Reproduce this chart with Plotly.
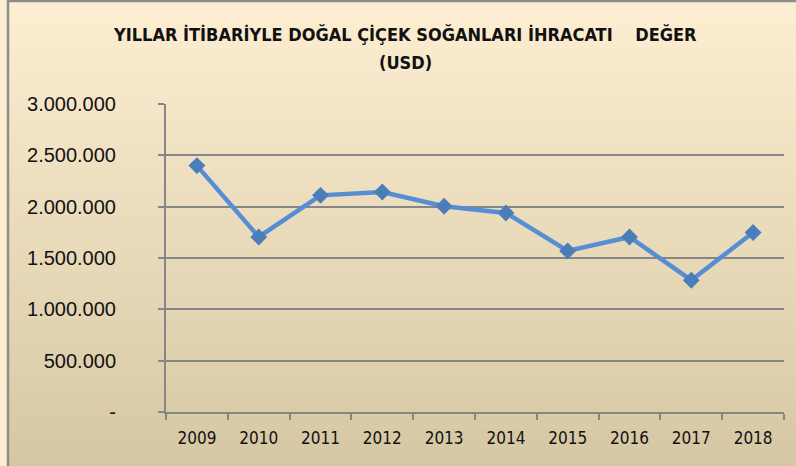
import plotly.graph_objects as go

years = ["2009", "2010", "2011", "2012", "2013", "2014", "2015", "2016", "2017", "2018"]
values = [2400000, 1705000, 2110000, 2143000, 2004000, 1939000, 1569000, 1705000, 1284000, 1748000]
y_ticks = [0, 500000, 1000000, 1500000, 2000000, 2500000, 3000000]
y_ticktext = ["-", "500.000", "1.000.000", "1.500.000", "2.000.000", "2.500.000", "3.000.000"]
title_line1 = "YILLAR İTİBARİYLE DOĞAL ÇİÇEK SOĞANLARI İHRACATI    DEĞER"
title_line2 = "(USD)"

W, H = 796, 466
L, R, T, B = 166, 12, 104, 54
pw, ph = W - L - R, H - T - B

def px(x):
    return (x - L) / pw

def py(y):
    return (H - B - y) / ph

COND = "DejaVu Sans Condensed, Roboto Condensed, Roboto, Liberation Sans, sans-serif"

# background gradient bands (decoration)
top_c = (253, 238, 210)
bot_c = (214, 199, 164)
shapes = []
n = 60
for i in range(n):
    f = i / (n - 1)
    c = tuple(round(top_c[k] + (bot_c[k] - top_c[k]) * f) for k in range(3))
    y0 = 2 + (H - 2) * i / n
    y1 = 2 + (H - 2) * (i + 1) / n + 0.5
    shapes.append(dict(type="rect", xref="paper", yref="paper", layer="below",
                       x0=px(8), x1=px(W + 5), y0=py(y0), y1=py(min(y1, H + 5)),
                       fillcolor="rgb(%d,%d,%d)" % c, line=dict(width=0)))
# chart border (top and left)
shapes.append(dict(type="line", xref="paper", yref="paper", x0=px(7), x1=px(W + 5),
                   y0=py(1), y1=py(1), line=dict(color="#8c8c8c", width=2.5)))
shapes.append(dict(type="line", xref="paper", yref="paper", x0=px(8), x1=px(8),
                   y0=py(0), y1=py(H + 5), line=dict(color="#8c8c8c", width=2.5)))

fig = go.Figure()
fig.add_trace(go.Scatter(
    x=years, y=values, mode="lines+markers",
    line=dict(color="#558ed5", width=4.5),
    marker=dict(symbol="diamond", size=13, color="#4a7ebb", line=dict(width=0)),
    showlegend=False, hoverinfo="x+y",
))

title_font = dict(family=COND, size=18, color="#111111", weight="bold")
annotations = [
    dict(text=title_line1, xref="paper", yref="paper", x=px(405), y=py(34),
         xanchor="center", yanchor="middle", showarrow=False, font=title_font),
    dict(text=title_line2, xref="paper", yref="paper", x=px(405), y=py(63),
         xanchor="center", yanchor="middle", showarrow=False, font=title_font),
]

fig.update_layout(
    width=W, height=H,
    margin=dict(l=L, r=R, t=T, b=B),
    paper_bgcolor="#fdeed2",
    plot_bgcolor="rgba(0,0,0,0)",
    shapes=shapes,
    annotations=annotations,
    xaxis=dict(
        type="category", showgrid=False, showline=True, linecolor="#868686", linewidth=2,
        ticks="outside", ticklen=6, tickwidth=2, tickcolor="#868686", tickson="boundaries",
        tickfont=dict(family=COND, size=17, color="#111111"),
        ticklabelstandoff=10,
        range=[-0.5, 9.5], fixedrange=True,
    ),
    yaxis=dict(
        range=[0, 3000000], tickvals=y_ticks, ticktext=y_ticktext,
        showgrid=True, gridcolor="#868686", gridwidth=2,
        showline=True, linecolor="#868686", linewidth=2,
        ticks="outside", ticklen=6, tickwidth=2, tickcolor="#868686",
        tickfont=dict(family="Liberation Sans", size=20, color="#111111"),
        ticklabelstandoff=38,
        zeroline=False, fixedrange=True,
    ),
)

fig.write_html("out.html", config={"displayModeBar": False},
               post_script="document.body.style.margin='0';")
